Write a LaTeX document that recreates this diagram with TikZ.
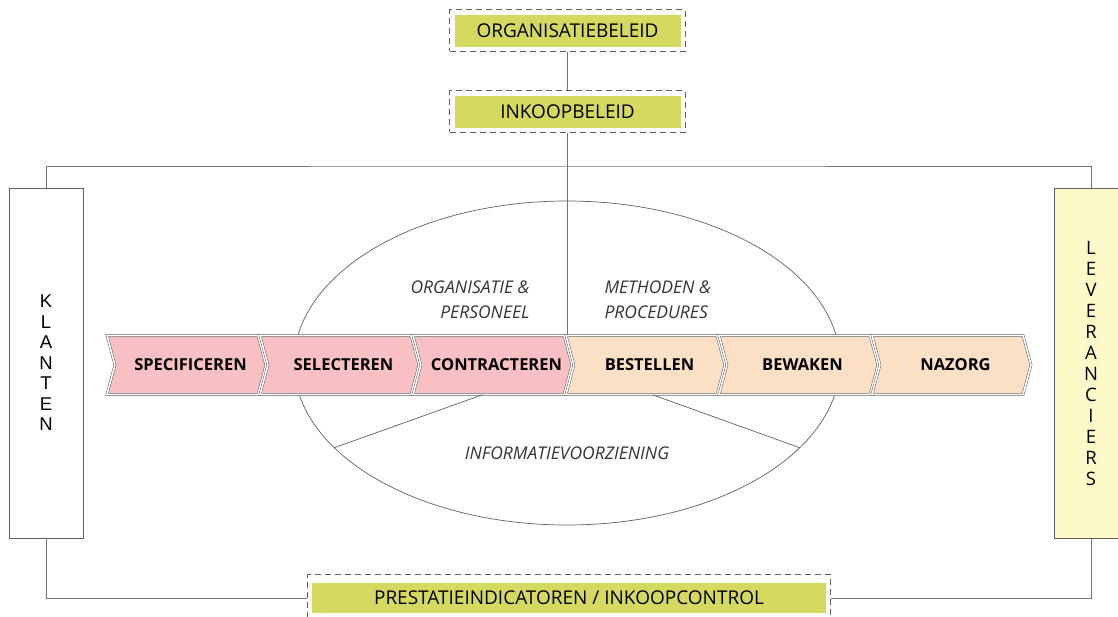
\documentclass[tikz,border=0pt]{standalone}
\usepackage{fontspec}
\setmainfont{Open Sans}
\newfontfamily\arialfont{Liberation Sans}
\usetikzlibrary{shapes.geometric,shapes.symbols,fit}
\definecolor{chevpink}{RGB}{249,192,196}
\definecolor{chevpeach}{RGB}{251,224,198}
\definecolor{beleidgreen}{RGB}{213,217,96}
\definecolor{levyellow}{RGB}{253,249,200}
\definecolor{linegray}{RGB}{95,95,95}

\begin{document}
\begin{tikzpicture}[x=1pt,y=-1pt,
  chev/.style={shape=signal, signal from=west, signal to=east, signal pointer angle=150,
    minimum width=159pt, minimum height=59pt, inner sep=0pt, draw=linegray, double=white,
    double distance=1.6pt, line width=0.5pt, font=\fontsize{16.5}{18}\selectfont\bfseries,
    execute at begin node={\hspace*{8pt}}},
  chevpinkbox/.style={chev, fill=chevpink},
  chevpeachbox/.style={chev, fill=chevpeach},
  beleid/.style={fill=beleidgreen, minimum width=226pt, minimum height=32pt, inner sep=0pt,
    font=\fontsize{19}{22}\selectfont},
  dashframe/.style={draw=linegray, dash pattern=on 6pt off 4pt, line width=0.7pt, inner xsep=4.5pt, inner ysep=4.5pt},
  sidebox/.style={draw=linegray, line width=0.7pt, minimum width=74pt, minimum height=350pt, align=center,
    font=\fontsize{18.5}{21}\selectfont},
  theme/.style={font=\fontsize{17.5}{25}\selectfont\itshape, text=black!80},
  conn/.style={draw=black!55, line width=0.7pt}]
\useasboundingbox (0,0) rectangle (1118,616);
\clip (0,0) rectangle (1118,616);
\node[ellipse, draw=linegray, line width=0.7pt, minimum width=546pt, minimum height=324pt] (ring) at (567,363) {};
\node[chevpinkbox] (spec) at (186.5,365) {SPECIFICEREN};
\node[chevpinkbox] (sel) at (339.5,365) {SELECTEREN};
\node[chevpinkbox] (contr) at (492.5,365) {CONTRACTEREN};
\node[chevpeachbox] (best) at (645.5,365) {BESTELLEN};
\node[chevpeachbox] (bew) at (798.5,365) {BEWAKEN};
\node[chevpeachbox] (naz) at (951.5,365) {NAZORG};
\draw[conn, draw=linegray] ([xshift=-10pt]contr.south) -- (ring.200);
\draw[conn, draw=linegray] ([xshift=7pt]best.south) -- (ring.340);
\node[theme, align=right, anchor=east] (orgpers) at (533,300) {ORGANISATIE \&\\PERSONEEL};
\node[theme, align=left, anchor=west] (methproc) at (601,300) {METHODEN \&\\PROCEDURES};
\node[theme] (info) at (567,453) {INFORMATIEVOORZIENING};
\node[beleid] (org) at (567.5,30.5) {ORGANISATIEBELEID};
\node[dashframe, fit=(org)] (orgframe) {};
\node[beleid] (inkoop) at (567.5,111.5) {INKOOPBELEID};
\node[dashframe, fit=(inkoop)] (inkoopframe) {};
\node[beleid, minimum width=514pt, minimum height=30pt] (prest) at (569,598) {PRESTATIEINDICATOREN / INKOOPCONTROL};
\node[dashframe, fit=(prest), inner ysep=8pt] (prestframe) {};
\node[sidebox, font=\arialfont\fontsize{18.5}{20.5}\selectfont] (klanten) at (46,363) {K\\L\\A\\N\\T\\E\\N};
\node[sidebox, fill=levyellow] (lev) at (1091,363) {L\\E\\V\\E\\R\\A\\N\\C\\I\\E\\R\\S};
\coordinate (frametop) at (567,166);
\draw[conn] (klanten.north) |- (frametop) -| (lev.north);
\draw[conn] (klanten.south) |- (prestframe.west);
\draw[conn] (lev.south) |- (prestframe.east);
\draw[conn] (orgframe.south) -- (inkoopframe.north);
\draw[conn] (inkoopframe.south) -- (inkoopframe.south |- contr.north);
\end{tikzpicture}
\end{document}
